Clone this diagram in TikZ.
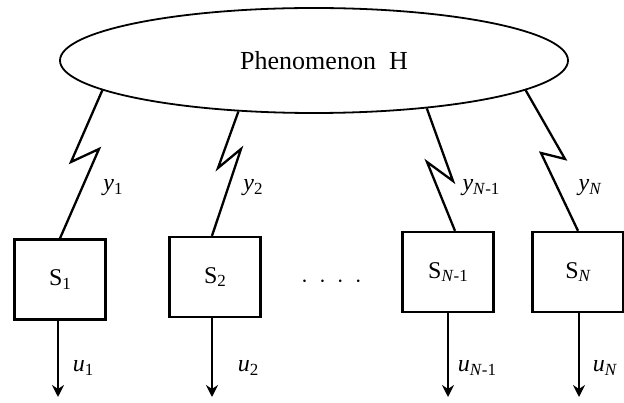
\documentclass[tikz,border=0pt]{standalone}
\usepackage{fontspec}
\setmainfont{Liberation Serif}
\usetikzlibrary{shapes.geometric,arrows.meta}
\newcommand\mysub[1]{\raisebox{-0.3ex}{\fontsize{17}{18}\selectfont #1}}
\begin{document}
\begin{tikzpicture}[x=1pt,y=-1pt,
  line width=2.3pt,
  phen/.style={draw,ellipse,line width=1.8pt,minimum width=508pt,minimum height=105pt,inner sep=0pt,
    font=\fontsize{26}{28}\selectfont},
  sbox/.style={draw,rectangle,minimum width=91pt,minimum height=80pt,inner sep=0pt,
    font=\fontsize{24}{26}\selectfont},
  lbl/.style={font=\fontsize{24}{26}\selectfont,inner sep=0pt},
  outarr/.style={-{Stealth[length=12pt,width=12pt,inset=4pt]}}
]
\useasboundingbox (0,0) rectangle (624,403);
\node[phen] (ph) at (314,60.5) {\hspace{20pt}Phenomenon\ \ H};
\node[sbox] (s1) at (60,279.5) {S\mysub{1}};
\node[sbox] (s2) at (215,277) {S\mysub{2}};
\node[sbox] (s3) at (448,272) {S\mysub{\textit{N}-1}};
\node[sbox] (s4) at (578,272) {S\mysub{\textit{N}}};
\node[lbl,font=\fontsize{30}{30}\selectfont] (dt) at (331.5,282) {$\cdot$\hspace{11pt}$\cdot$\hspace{11pt}$\cdot$\hspace{11pt}$\cdot$};
% zigzag links
\draw (ph.188.6) -- (71,162) -- (99,149) -- (s1.north);
\draw (ph.214.3) -- (218,168) -- (241,149) -- ([xshift=-3pt]s2.north);
\draw (ph.337.7) -- (453,181) -- (427,162) -- ([xshift=7pt]s3.north);
\draw (ph.352.2) -- (565,159) -- (541,153) -- (s4.north);
% labels y
\node[lbl] (y1) at (113,188) {\textit{y}\mysub{1}};
\node[lbl] (y2) at (253,188) {\textit{y}\mysub{2}};
\node[lbl] (y3) at (481,188) {\textit{y}\mysub{\textit{N}-1}};
\node[lbl] (y4) at (590,188) {\textit{y}\mysub{\textit{N}}};
% outputs
\coordinate (e1) at (58,397);
\coordinate (e2) at (212,397);
\coordinate (e3) at (448,397);
\coordinate (e4) at (579,397);
\draw[outarr] ([xshift=-2pt]s1.south) -- (e1);
\draw[outarr] ([xshift=-3pt]s2.south) -- (e2);
\draw[outarr] (s3.south) -- (e3);
\draw[outarr] ([xshift=1pt]s4.south) -- (e4);
\node[lbl] (u1) at (83,368) {\textit{u}\mysub{1}};
\node[lbl] (u2) at (248,368) {\textit{u}\mysub{2}};
\node[lbl] (u3) at (477,368) {\textit{u}\mysub{\textit{N}-1}};
\node[lbl] (u4) at (605,368) {\textit{u}\mysub{\textit{N}}};
\end{tikzpicture}
\end{document}
